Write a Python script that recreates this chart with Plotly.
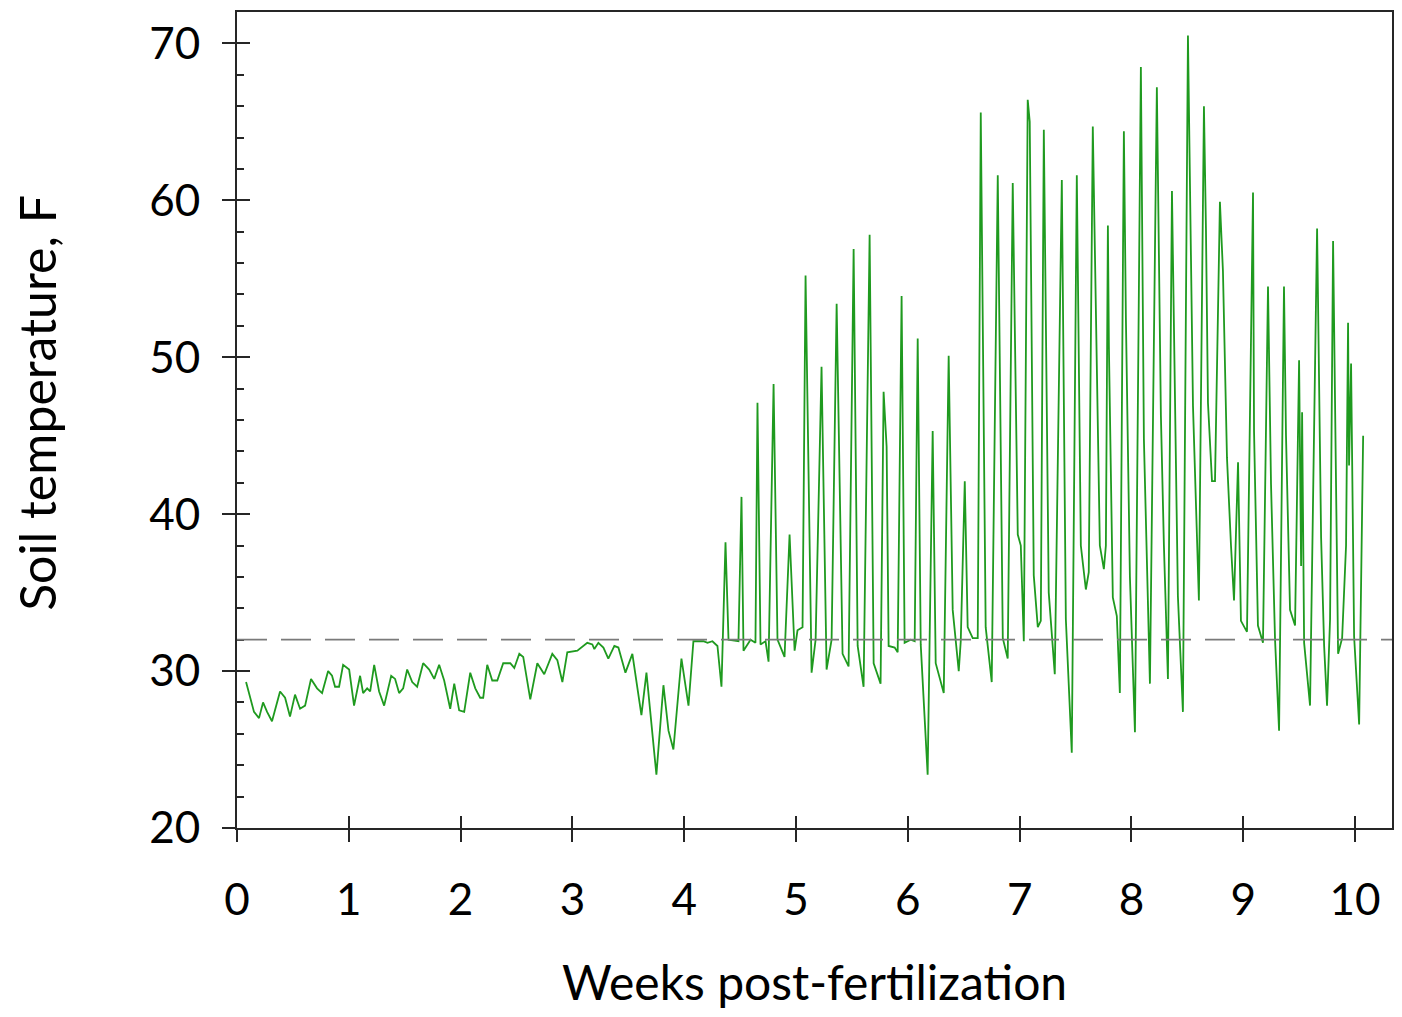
import plotly.graph_objects as go

FONT = "Lato, Carlito, 'Open Sans', sans-serif"
GREEN = "#1f9a1f"
AXIS = "#262626"

# Weeks after fertilization (peaks, troughs and knees)
weeks = [
    0.081, 0.152, 0.197, 0.233, 0.269, 0.313, 0.385, 0.430, 0.474, 0.519,
    0.564, 0.609, 0.662, 0.716, 0.761, 0.815, 0.850, 0.877, 0.913, 0.949,
    1.003, 1.047, 1.101, 1.128, 1.164, 1.191, 1.227, 1.271, 1.316, 1.379,
    1.414, 1.450, 1.486, 1.522, 1.567, 1.611, 1.665, 1.719, 1.764, 1.808,
    1.853, 1.907, 1.943, 1.987, 2.032, 2.086, 2.131, 2.175, 2.202, 2.238,
    2.283, 2.328, 2.381, 2.444, 2.480, 2.525, 2.560, 2.623, 2.686, 2.748,
    2.820, 2.865, 2.910, 2.954, 3.044, 3.133, 3.178, 3.196, 3.232, 3.277,
    3.321, 3.375, 3.411, 3.474, 3.536, 3.617, 3.662, 3.751, 3.814, 3.859,
    3.903, 3.975, 4.038, 4.082, 4.172, 4.208, 4.252, 4.297, 4.333, 4.369,
    4.396, 4.485, 4.512, 4.530, 4.593, 4.637, 4.655, 4.682, 4.727, 4.754,
    4.799, 4.834, 4.897, 4.942, 4.987, 5.013, 5.058, 5.085, 5.139, 5.175,
    5.228, 5.273, 5.318, 5.363, 5.416, 5.470, 5.515, 5.551, 5.604, 5.658,
    5.694, 5.756, 5.783, 5.810, 5.828, 5.882, 5.909, 5.944, 5.971, 6.025,
    6.061, 6.088, 6.115, 6.177, 6.222, 6.249, 6.321, 6.365, 6.401, 6.437,
    6.455, 6.473, 6.509, 6.535, 6.580, 6.625, 6.652, 6.696, 6.750, 6.804,
    6.849, 6.893, 6.938, 6.983, 7.010, 7.037, 7.072, 7.090, 7.126, 7.162,
    7.189, 7.216, 7.260, 7.314, 7.377, 7.413, 7.466, 7.511, 7.547, 7.592,
    7.618, 7.654, 7.699, 7.717, 7.753, 7.771, 7.789, 7.798, 7.833, 7.869,
    7.896, 7.932, 7.950, 7.986, 8.031, 8.084, 8.111, 8.165, 8.227, 8.263,
    8.290, 8.326, 8.362, 8.380, 8.415, 8.460, 8.505, 8.550, 8.603, 8.648,
    8.666, 8.684, 8.720, 8.747, 8.791, 8.818, 8.854, 8.890, 8.917, 8.953,
    8.979, 9.033, 9.087, 9.096, 9.131, 9.176, 9.221, 9.248, 9.284, 9.320,
    9.364, 9.382, 9.418, 9.463, 9.499, 9.517, 9.526, 9.544, 9.597, 9.633,
    9.660, 9.696, 9.723, 9.749, 9.776, 9.803, 9.812, 9.848, 9.884, 9.919,
    9.937, 9.946, 9.964, 9.991, 10.036, 10.072,
]

# Soil temperature (F) at those times
soil_temp = [
    29.3, 27.4, 27.0, 28.0, 27.4, 26.8, 28.7, 28.3, 27.1, 28.5,
    27.6, 27.8, 29.5, 28.9, 28.6, 30.0, 29.7, 29.0, 29.0, 30.4,
    30.1, 27.8, 29.7, 28.6, 28.9, 28.7, 30.4, 28.7, 27.8, 29.7,
    29.5, 28.6, 28.9, 30.1, 29.3, 29.0, 30.5, 30.1, 29.5, 30.4,
    29.4, 27.6, 29.2, 27.5, 27.4, 29.9, 28.9, 28.3, 28.3, 30.4,
    29.4, 29.4, 30.5, 30.5, 30.2, 31.1, 30.9, 28.2, 30.5, 29.8,
    31.1, 30.7, 29.3, 31.2, 31.3, 31.8, 31.7, 31.4, 31.8, 31.5,
    30.8, 31.6, 31.5, 29.9, 31.1, 27.2, 29.9, 23.4, 29.1, 26.2,
    25.0, 30.8, 27.8, 31.9, 31.9, 31.8, 31.9, 31.6, 29.0, 38.2,
    32.0, 31.9, 41.1, 31.3, 32.0, 31.8, 47.1, 31.7, 31.9, 30.6,
    48.3, 32.0, 30.9, 38.7, 31.3, 32.6, 32.8, 55.2, 29.9, 32.0,
    49.4, 30.1, 32.0, 53.4, 31.1, 30.3, 56.9, 31.6, 29.0, 57.8,
    30.5, 29.2, 47.8, 44.3, 31.6, 31.5, 31.2, 53.9, 31.8, 32.0,
    31.9, 51.2, 31.7, 23.4, 45.3, 30.5, 28.6, 50.1, 33.9, 31.5,
    30.0, 31.9, 42.1, 32.8, 32.1, 32.1, 65.6, 32.8, 29.3, 61.6,
    32.1, 30.8, 61.1, 38.7, 38.0, 31.9, 66.4, 65.0, 36.1, 32.8,
    33.2, 64.5, 35.0, 29.8, 61.3, 33.3, 24.8, 61.6, 38.0, 35.2,
    36.3, 64.7, 44.8, 38.0, 36.5, 38.0, 58.4, 50.7, 34.7, 33.5,
    28.6, 64.4, 52.5, 36.0, 26.1, 68.5, 44.8, 29.2, 67.2, 46.3,
    38.0, 29.5, 60.6, 50.7, 34.8, 27.4, 70.5, 46.9, 34.5, 66.0,
    58.2, 47.1, 42.1, 42.1, 59.9, 55.5, 43.6, 38.0, 34.5, 43.3,
    33.2, 32.5, 60.5, 45.3, 32.9, 31.8, 54.5, 41.9, 32.0, 26.2,
    54.5, 45.0, 33.9, 32.9, 49.8, 36.7, 46.5, 31.8, 27.8, 45.3,
    58.2, 38.5, 31.6, 27.8, 33.3, 57.4, 52.2, 31.1, 32.1, 38.0,
    52.2, 43.1, 49.6, 32.2, 26.6, 45.0,
]

FREEZING = 32
x_ticks = list(range(0, 11))
y_ticks = [20, 30, 40, 50, 60, 70]
X_MAX = 10.33

fig = go.Figure()
fig.add_trace(go.Scatter(
    x=weeks, y=soil_temp, mode="lines",
    line=dict(color=GREEN, width=1.8), showlegend=False,
))
# empty trace so the overlay axes (inside half of the crossing ticks) get drawn
fig.add_trace(go.Scatter(x=[], y=[], xaxis="x2", yaxis="y2", showlegend=False))

fig.add_hline(y=FREEZING, line=dict(color="#7a7a7a", width=1.8, dash="30px,14px"))

tick_font = dict(family=FONT, size=44, color="#000000")
title_font = dict(family=FONT, size=48, color="#000000")

# axis titles as annotations so they can be placed exactly
fig.add_annotation(
    text="Soil temperature, F", textangle=-90, font=dict(title_font, size=50),
    xref="paper", yref="paper", x=0, y=0.521, xshift=-200,
    xanchor="center", yanchor="middle", showarrow=False,
)
fig.add_annotation(
    text="Weeks post-fertilization", font=title_font,
    xref="paper", yref="paper", x=0.5, y=0, yshift=-153,
    xanchor="center", yanchor="middle", showarrow=False,
)

# page body adds an 8px offset, so the figure is kept inside the visible window
fig.update_layout(
    width=1386, height=1001,
    paper_bgcolor="white", plot_bgcolor="white",
    margin=dict(l=229, r=2, t=4, b=181, autoexpand=False),
    font=dict(family=FONT, color="#000000"),
    xaxis=dict(
        range=[0, X_MAX], tickvals=x_ticks, ticks="outside", ticklen=12, tickwidth=2,
        tickcolor=AXIS, showline=True, linecolor=AXIS, linewidth=2, mirror=True,
        showgrid=False, zeroline=False, tickfont=tick_font, ticklabelstandoff=20,
    ),
    yaxis=dict(
        range=[20, 72], tickvals=y_ticks, ticks="outside", ticklen=13, tickwidth=2,
        tickcolor=AXIS, showline=True, linecolor=AXIS, linewidth=2, mirror=True,
        showgrid=False, zeroline=False, tickfont=tick_font, ticklabelstandoff=13,
    ),
    xaxis2=dict(
        overlaying="x", matches="x", range=[0, X_MAX], tickvals=x_ticks,
        ticks="inside", ticklen=12, tickwidth=2, tickcolor=AXIS,
        showticklabels=False, showgrid=False, zeroline=False, showline=False,
    ),
    yaxis2=dict(
        overlaying="y", matches="y", range=[20, 72], tickvals=y_ticks,
        ticks="inside", ticklen=13, tickwidth=2, tickcolor=AXIS,
        minor=dict(ticks="inside", dtick=2, ticklen=7, tickwidth=1.5, tickcolor=AXIS),
        showticklabels=False, showgrid=False, zeroline=False, showline=False,
    ),
)

fig.write_html("out.html")
